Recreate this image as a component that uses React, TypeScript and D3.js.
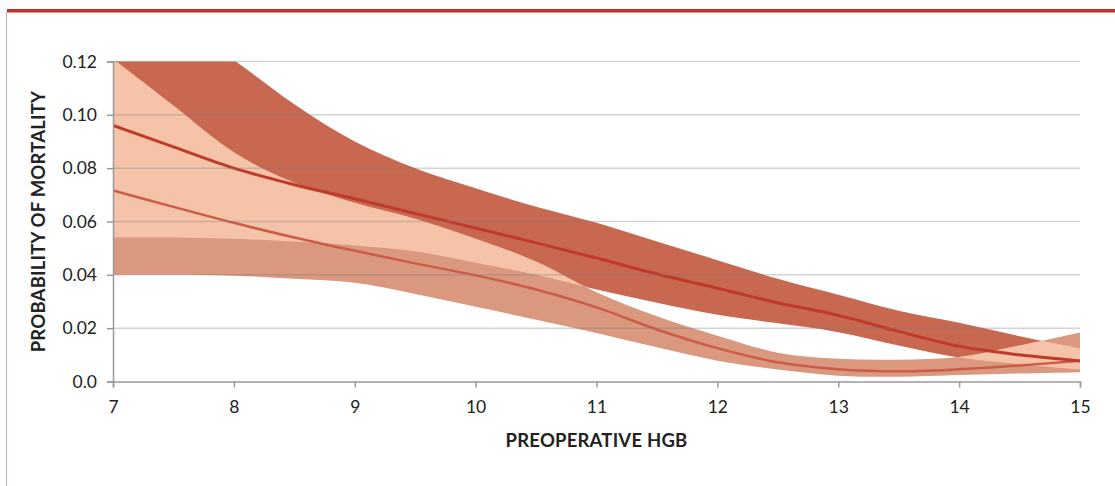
import * as d3 from 'd3';
import React, { useEffect, useRef } from 'react';

// preoperative HGB grid
const hgb = [7, 7.5, 8, 8.5, 9, 9.5, 10, 10.5, 11, 11.5, 12, 12.5, 13, 13.5, 14, 14.5, 15];

// series A (darker line) and its interval
const meanA = [0.096, 0.088, 0.08, 0.0738, 0.0685, 0.063, 0.0575, 0.052, 0.0463, 0.0403, 0.035, 0.0295, 0.0248, 0.0188, 0.0132, 0.0100, 0.0077];
const lowerA = [0.054, 0.054, 0.0535, 0.0525, 0.051, 0.0488, 0.0445, 0.04, 0.0345, 0.0295, 0.025, 0.0218, 0.0185, 0.0135, 0.009, 0.0065, 0.0045];
const upperA = [0.15, 0.135, 0.1205, 0.104, 0.09, 0.08, 0.0725, 0.0655, 0.0595, 0.0525, 0.0455, 0.0385, 0.0325, 0.0265, 0.022, 0.017, 0.0125];

// series B (lighter line) and its interval
const meanB = [0.0716, 0.0655, 0.0595, 0.054, 0.049, 0.0443, 0.0398, 0.0345, 0.0278, 0.0195, 0.0125, 0.0072, 0.0046, 0.0038, 0.0046, 0.006, 0.0078];
const lowerB = [0.04, 0.04, 0.0397, 0.0385, 0.037, 0.0328, 0.028, 0.0232, 0.0182, 0.0128, 0.0078, 0.0045, 0.0022, 0.0018, 0.0024, 0.003, 0.0035];
const upperB = [0.121, 0.1035, 0.086, 0.0745, 0.067, 0.061, 0.0535, 0.045, 0.0335, 0.0245, 0.0172, 0.0108, 0.0085, 0.0082, 0.0092, 0.0135, 0.0184];

const yTicks = [0, 0.02, 0.04, 0.06, 0.08, 0.1, 0.12];
const xTicks = [7, 8, 9, 10, 11, 12, 13, 14, 15];

const width = 1115;
const height = 486;
const margin = { top: 61.5, right: 35, bottom: 104.5, left: 113 };

const FONT = 'Lato, "Open Sans", sans-serif';

type Pt = { x: number; lo: number; hi: number; m: number };

const App: React.FC = () => {
  const svgRef = useRef<SVGSVGElement>(null);
  useEffect(() => {
    if (!svgRef.current) return;
    const svg = d3.select(svgRef.current);
    svg.selectAll('*').remove();

    const xScale = d3.scaleLinear().domain([7, 15]).range([margin.left, width - margin.right]);
    const yScale = d3.scaleLinear().domain([0, 0.12]).range([height - margin.bottom, margin.top]);

    const seriesA: Pt[] = hgb.map((x, i) => ({ x, lo: lowerA[i], hi: upperA[i], m: meanA[i] }));
    const seriesB: Pt[] = hgb.map((x, i) => ({ x, lo: lowerB[i], hi: upperB[i], m: meanB[i] }));

    const curve = d3.curveCatmullRom.alpha(0.5);
    const band = d3
      .area<Pt>()
      .x((d) => xScale(d.x))
      .y0((d) => yScale(d.lo))
      .y1((d) => yScale(d.hi))
      .curve(curve);
    const line = d3
      .line<Pt>()
      .x((d) => xScale(d.x))
      .y((d) => yScale(d.m))
      .curve(curve);

    // frame: red top rule and thin left border
    svg.append('rect').attr('x', 7).attr('y', 9).attr('width', width - 7).attr('height', 3.5).attr('fill', '#bf2f2c');
    svg.append('line').attr('x1', 6.5).attr('x2', 6.5).attr('y1', 12).attr('y2', height).attr('stroke', '#d9a9a4').attr('stroke-width', 1);

    const defs = svg.append('defs');
    defs
      .append('clipPath')
      .attr('id', 'plot-clip')
      .append('rect')
      .attr('x', margin.left)
      .attr('y', margin.top)
      .attr('width', width - margin.left - margin.right)
      .attr('height', height - margin.top - margin.bottom);
    defs.append('clipPath').attr('id', 'bandB-clip').append('path').attr('d', band(seriesB) || '');

    const plot = svg.append('g').attr('clip-path', 'url(#plot-clip)');
    plot.append('path').attr('d', band(seriesA) || '').attr('fill', '#c96850');
    plot.append('path').attr('d', band(seriesB) || '').attr('fill', '#da987f');
    // overlap of both intervals
    plot
      .append('g')
      .attr('clip-path', 'url(#bandB-clip)')
      .append('path')
      .attr('d', band(seriesA) || '')
      .attr('fill', '#f5c3a7');

    // gridlines
    svg
      .append('g')
      .selectAll('line')
      .data(yTicks.filter((t) => t > 0))
      .enter()
      .append('line')
      .attr('x1', margin.left)
      .attr('x2', width - margin.right)
      .attr('y1', (d) => yScale(d))
      .attr('y2', (d) => yScale(d))
      .attr('stroke', 'rgba(120,120,120,0.33)')
      .attr('stroke-width', 1.5);

    plot.append('path').attr('d', line(seriesB) || '').attr('fill', 'none').attr('stroke', '#cc5c47').attr('stroke-width', 2.5);
    plot.append('path').attr('d', line(seriesA) || '').attr('fill', 'none').attr('stroke', '#bf3a2b').attr('stroke-width', 3);

    // y axis
    const yAxis = svg
      .append('g')
      .attr('transform', `translate(${margin.left},0)`)
      .call(
        d3
          .axisLeft(yScale)
          .tickValues(yTicks)
          .tickSize(6)
          .tickPadding(10)
          .tickFormat((d) => (+d === 0 ? '0.0' : d3.format('.2f')(+d)))
      );
    yAxis.select('.domain').attr('stroke', '#9a9a9a').attr('stroke-width', 1.5);
    yAxis.selectAll('.tick line').attr('stroke', '#9a9a9a').attr('stroke-width', 1.5);
    yAxis.selectAll('text').attr('font-family', FONT).attr('font-size', 17.5).attr('fill', '#222');

    // x axis
    const xAxis = svg
      .append('g')
      .attr('transform', `translate(0,${height - margin.bottom})`)
      .call(d3.axisBottom(xScale).tickValues(xTicks).tickSize(6).tickPadding(13).tickFormat(d3.format('d')));
    xAxis.select('.domain').attr('stroke', '#9a9a9a').attr('stroke-width', 1.5);
    xAxis.selectAll('.tick line').attr('stroke', '#9a9a9a').attr('stroke-width', 1.5);
    xAxis.selectAll('text').attr('font-family', FONT).attr('font-size', 17.5).attr('fill', '#222');

    // axis titles
    svg
      .append('text')
      .attr('x', (margin.left + width - margin.right) / 2)
      .attr('y', 446.5)
      .attr('text-anchor', 'middle')
      .attr('font-family', FONT)
      .attr('font-weight', 700)
      .attr('font-size', 18.5)
      .attr('letter-spacing', 0.2)
      .attr('fill', '#222')
      .text('PREOPERATIVE HGB');
    svg
      .append('text')
      .attr('transform', `translate(45,${(margin.top + height - margin.bottom) / 2}) rotate(-90)`)
      .attr('text-anchor', 'middle')
      .attr('font-family', FONT)
      .attr('font-weight', 700)
      .attr('font-size', 18.5)
      .attr('letter-spacing', 0.2)
      .attr('fill', '#222')
      .text('PROBABILITY OF MORTALITY');
  }, []);
  return (
    <svg
      ref={svgRef}
      width={width}
      height={height}
      viewBox={`0 0 ${width} ${height}`}
      style={{ position: 'absolute', left: 0, top: 0, background: '#fff' }}
    />
  );
};

export default App;
